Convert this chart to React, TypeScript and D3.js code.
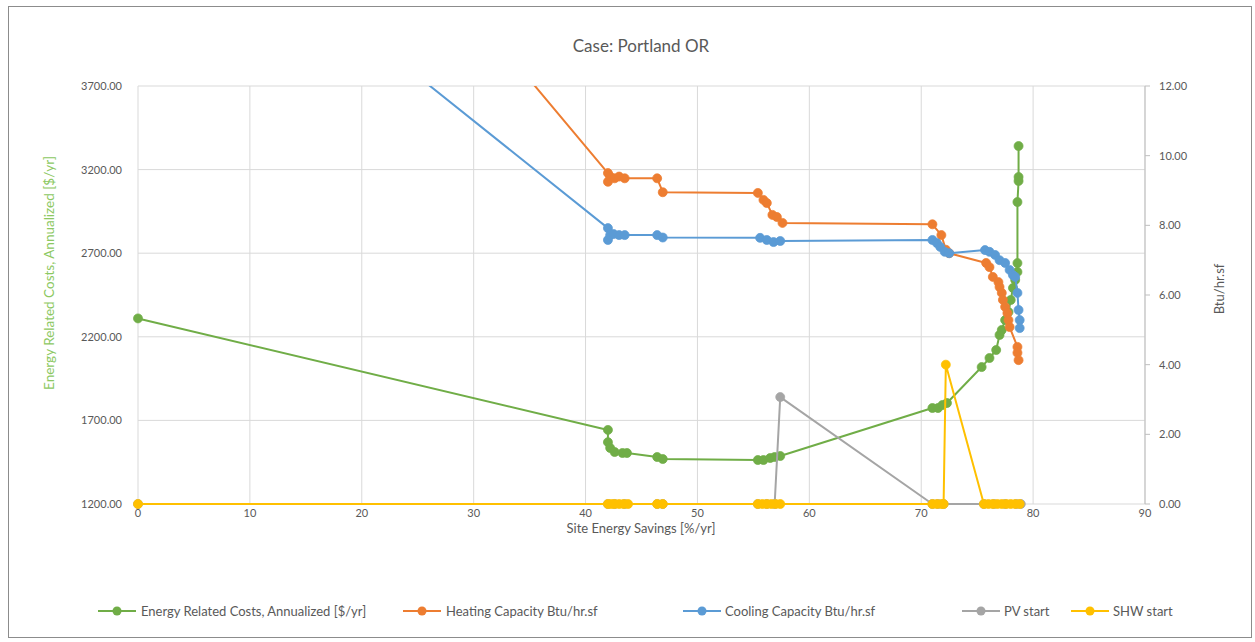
import React from "react";
import * as d3 from "d3";

// ---- data ----
const xTicks = [0, 10, 20, 30, 40, 50, 60, 70, 80, 90];
const leftTicks = [1200, 1700, 2200, 2700, 3200, 3700];
const rightTicks = [0, 2, 4, 6, 8, 10, 12];

const costX = [0, 42.0, 42.0, 42.2, 42.6, 43.3, 43.7, 46.4, 46.9, 55.4, 55.9, 56.5, 56.9, 57.4, 71.0, 71.5, 71.9, 72.3, 75.4, 76.1, 76.7, 77.0, 77.2, 77.5, 77.8, 78.0, 78.2, 78.4, 78.6, 78.6, 78.6, 78.7, 78.7, 78.7];
const costY = [2310, 1643, 1570, 1535, 1511, 1505, 1505, 1481, 1469, 1463, 1463, 1475, 1481, 1487, 1774, 1774, 1792, 1804, 2019, 2073, 2121, 2211, 2241, 2300, 2348, 2420, 2492, 2540, 2588, 2641, 3006, 3132, 3156, 3341];

const heatX = [0, 42.0, 42.0, 42.2, 42.6, 43.0, 43.5, 46.4, 46.9, 55.4, 55.9, 56.2, 56.7, 57.1, 57.6, 71.0, 71.8, 72.2, 72.5, 75.8, 76.1, 76.4, 76.9, 77.0, 77.2, 77.3, 77.5, 77.7, 77.8, 77.9, 78.6, 78.6, 78.7];
const heatY = [25.6, 9.5, 9.25, 9.4, 9.35, 9.4, 9.35, 9.35, 8.95, 8.93, 8.73, 8.64, 8.3, 8.24, 8.07, 8.03, 7.72, 7.3, 7.2, 6.92, 6.8, 6.52, 6.37, 6.23, 6.06, 5.86, 5.66, 5.48, 5.28, 5.08, 4.51, 4.34, 4.13];

const coolX = [0, 42.0, 42.0, 42.2, 42.5, 43.0, 43.5, 46.4, 46.9, 55.6, 56.2, 56.8, 57.4, 71.0, 71.4, 71.7, 72.1, 72.5, 75.7, 76.1, 76.6, 77.0, 77.5, 77.9, 78.2, 78.4, 78.6, 78.7, 78.8, 78.8];
const coolY = [18.7, 7.92, 7.58, 7.72, 7.75, 7.72, 7.72, 7.72, 7.65, 7.64, 7.58, 7.52, 7.55, 7.58, 7.49, 7.38, 7.24, 7.2, 7.29, 7.24, 7.15, 7.0, 6.92, 6.72, 6.57, 6.52, 6.06, 5.57, 5.28, 5.05];

const pvX = [0, 42.0, 42.6, 43.5, 46.4, 46.9, 55.4, 56.2, 56.9, 57.4, 71.0, 71.5, 72.0, 75.6, 76.5, 77.5, 78.5, 78.9];
const pvY = [0, 0, 0, 0, 0, 0, 0, 0, 0, 3.07, 0, 0, 0, 0, 0, 0, 0, 0];

const shwX = [0, 42.0, 42.3, 42.6, 43.0, 43.4, 43.8, 46.4, 46.9, 55.4, 55.8, 56.2, 56.6, 57.0, 57.4, 71.0, 71.4, 71.8, 72.0, 72.2, 75.6, 76.0, 76.4, 76.8, 77.2, 77.6, 78.0, 78.4, 78.8];
const shwY = [0, 0, 0, 0, 0, 0, 0, 0, 0, 0, 0, 0, 0, 0, 0, 0, 0, 0, 0, 4.0, 0, 0, 0, 0, 0, 0, 0, 0, 0];

const seriesNames = [
  "Energy Related Costs, Annualized [$/yr]",
  "Heating Capacity Btu/hr.sf",
  "Cooling Capacity Btu/hr.sf",
  "PV start",
  "SHW start",
];
const colors = ["#70AD47", "#ED7D31", "#5B9BD5", "#A5A5A5", "#FFC000"];

const FONT = "Lato, 'Open Sans', sans-serif";

export default function App() {
  const W = 1255, H = 642;
  const left = 138, right = 1145, top = 86, bottom = 504;
  const x = d3.scaleLinear().domain([0, 90]).range([left, right]);
  const yL = d3.scaleLinear().domain([1200, 3700]).range([bottom, top]);
  const yR = d3.scaleLinear().domain([0, 12]).range([bottom, top]);

  const series = [
    { xs: costX, ys: costY, y: yL },
    { xs: heatX, ys: heatY, y: yR },
    { xs: coolX, ys: coolY, y: yR },
    { xs: pvX, ys: pvY, y: yR },
    { xs: shwX, ys: shwY, y: yR },
  ];

  const legendItems = [
    { lx: 98, tx: 141 },
    { lx: 403, tx: 446 },
    { lx: 683, tx: 725 },
    { lx: 962, tx: 1004 },
    { lx: 1071, tx: 1113 },
  ];

  return (
    <svg width={W} height={H} style={{ position: "absolute", left: 0, top: 0, background: "#fff" }} fontFamily={FONT}>
      <rect x={0} y={0} width={W} height={H} fill="#fff" />
      <rect x={8.5} y={6.5} width={1243} height={631} fill="none" stroke="#8c8c8c" strokeWidth={1} />
      <defs>
        <clipPath id="plotClip">
          <rect x={left - 6} y={top} width={right - left + 12} height={bottom - top + 6} />
        </clipPath>
      </defs>

      <text x={641} y={52} textAnchor="middle" fontSize={17} fill="#595959">Case: Portland OR</text>

      {/* gridlines */}
      {leftTicks.map((t) => (
        <line key={"h" + t} x1={left} x2={right} y1={yL(t)} y2={yL(t)} stroke="#d9d9d9" strokeWidth={1} />
      ))}
      {xTicks.map((t) => (
        <line key={"v" + t} x1={x(t)} x2={x(t)} y1={top} y2={bottom} stroke="#d9d9d9" strokeWidth={1} />
      ))}
      {/* right axis line + ticks */}
      <line x1={right} x2={right} y1={top} y2={bottom} stroke="#bfbfbf" strokeWidth={1} />
      {rightTicks.map((t) => (
        <line key={"rt" + t} x1={right} x2={right + 5} y1={yR(t)} y2={yR(t)} stroke="#bfbfbf" strokeWidth={1} />
      ))}

      {/* tick labels */}
      {leftTicks.map((t) => (
        <text key={"lt" + t} x={122} y={yL(t) + 4} textAnchor="end" fontSize={11} fill="#595959">{t.toFixed(2)}</text>
      ))}
      {rightTicks.map((t) => (
        <text key={"rl" + t} x={1159} y={yR(t) + 4} textAnchor="start" fontSize={11} fill="#595959">{t.toFixed(2)}</text>
      ))}
      {xTicks.map((t) => (
        <text key={"xl" + t} x={x(t)} y={bottom + 13} textAnchor="middle" fontSize={11} fill="#595959">{t}</text>
      ))}

      {/* axis titles */}
      <text x={641} y={533} textAnchor="middle" fontSize={13} fill="#595959">Site Energy Savings [%/yr]</text>
      <text transform={`translate(54,${(top + bottom) / 2 - 22}) rotate(-90)`} textAnchor="middle" fontSize={13.5} fill="#8cc862">
        Energy Related Costs, Annualized [$/yr]
      </text>
      <text transform={`translate(1224,289) rotate(-90)`} textAnchor="middle" fontSize={13} fill="#595959">Btu/hr.sf</text>

      {/* series */}
      <g clipPath="url(#plotClip)">
        {series.map((s, i) => {
          const pts: [number, number][] = s.xs.map((xv, j) => [x(xv), s.y(s.ys[j])]);
          const line = d3.line()(pts) || "";
          return (
            <g key={"s" + i}>
              <path d={line} fill="none" stroke={colors[i]} strokeWidth={2} strokeLinejoin="round" />
              {pts.map((p, j) => (
                <circle key={j} cx={p[0]} cy={p[1]} r={4.5} fill={colors[i]} stroke={colors[i]} strokeWidth={0.75} />
              ))}
            </g>
          );
        })}
      </g>

      {/* legend */}
      {legendItems.map((it, i) => (
        <g key={"lg" + i}>
          <line x1={it.lx} x2={it.lx + 38} y1={611} y2={611} stroke={colors[i]} strokeWidth={2} />
          <circle cx={it.lx + 19} cy={611} r={4.5} fill={colors[i]} />
          <text x={it.tx} y={615.5} fontSize={13} fill="#595959">{seriesNames[i]}</text>
        </g>
      ))}
    </svg>
  );
}
